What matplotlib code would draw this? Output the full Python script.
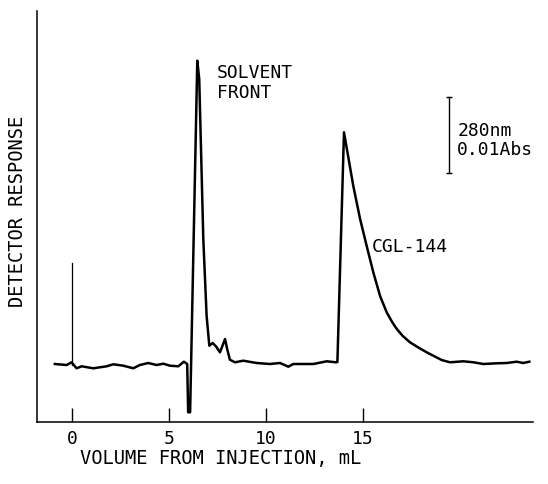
import matplotlib
matplotlib.use("Agg")
import matplotlib.pyplot as plt

# chromatogram trace (volume in mL, response in arbitrary units)
volume = [-0.88, -0.27, -0.02, 0.24, 0.50, 1.10, 1.79, 2.13, 2.65, 3.16, 3.50, 3.93,
          4.36, 4.71, 5.05, 5.48, 5.77, 5.94, 5.99, 6.09, 6.46, 6.56, 6.77, 6.94,
          7.08, 7.25, 7.42, 7.63, 7.89, 8.00, 8.14, 8.40, 8.83, 9.52, 10.20, 10.72,
          11.15, 11.41, 12.44, 13.13, 13.61, 13.68, 14.02, 14.50, 14.85, 15.19,
          15.53, 15.88, 16.22, 16.50, 16.74, 17.05, 17.42, 17.85, 18.28, 18.70,
          19.05, 19.48, 20.17, 20.69, 21.20, 21.89, 22.40, 22.92, 23.26, 23.57]
response = [58, 57, 59.7, 53.7, 55.7, 53.7, 55.7, 57.7, 56.3, 53.7, 57, 59,
            57, 58.3, 56.3, 55.7, 60.3, 58, 9.7, 9.7, 361.3, 343, 183, 106.3,
            76.3, 79, 75.7, 69.7, 83, 73, 62.3, 59.7, 61.3, 59, 58, 59,
            55.3, 58, 58, 60.7, 59.7, 60, 289.7, 236, 203, 176,
            149.7, 126, 109.7, 100, 93, 86, 79.7, 74.5, 69.7, 65.5,
            62, 59.7, 60.7, 59.7, 58, 58.7, 59, 60.3, 59, 60.3]

# injection marker and absorbance scale bar
inject_x = [0, 0]
inject_y = [57, 159]
scale_x = [19.43, 19.43]
scale_y = [249, 325]

xticks = [0, 5, 10, 15]

font = "DejaVu Sans Mono"
fs = 13

fig = plt.figure(figsize=(5.48, 4.85), dpi=100)
ax = fig.add_axes([37 / 548, 62 / 485, 496 / 548, 411 / 485])

ax.plot(volume, response, color="black", lw=1.8, solid_joinstyle="round")
ax.plot(inject_x, inject_y, color="black", lw=0.9)
ax.plot(scale_x, scale_y, color="black", lw=1.0, marker="_", markersize=4, mew=1.0)

ax.set_xlim(-1.8, 23.76)
ax.set_ylim(0, 411)

ax.spines["top"].set_visible(False)
ax.spines["right"].set_visible(False)
ax.spines["left"].set_linewidth(1.1)
ax.spines["bottom"].set_linewidth(1.1)

ax.set_xticks(xticks)
ax.set_xticklabels([str(t) for t in xticks], family=font, fontsize=fs)
ax.set_yticks([])
ax.tick_params(axis="x", direction="in", length=10, width=1.0, pad=5)

ax.text(7.47, 359, "SOLVENT\nFRONT", family=font, fontsize=fs, ha="left", va="top",
        linespacing=1.15)
ax.text(19.85, 301, "280nm\n0.01Abs", family=font, fontsize=fs, ha="left", va="top",
        linespacing=1.1)
ax.text(15.46, 176, "CGL-144", family=font, fontsize=fs, ha="left", va="center")

fig.text(221 / 548, 1 - 459 / 485, "VOLUME FROM INJECTION, mL", family=font,
         fontsize=13.5, ha="center", va="center")
fig.text(18 / 548, 1 - 211 / 485, "DETECTOR RESPONSE", family=font, fontsize=13.5,
         ha="center", va="center", rotation=90)

fig.savefig("out.png", dpi=100, facecolor="white")
